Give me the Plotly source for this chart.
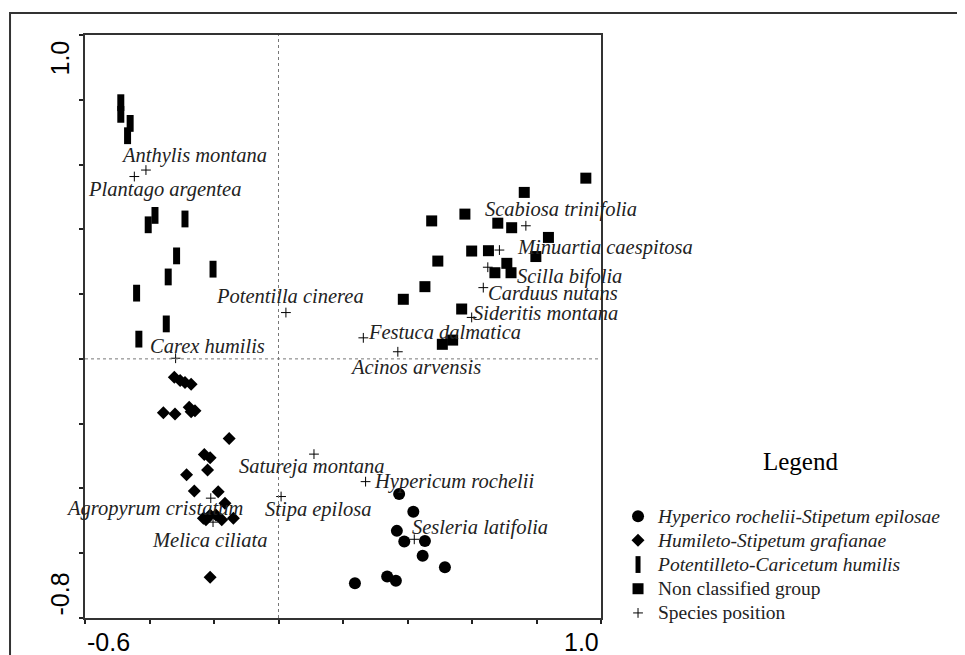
import plotly.graph_objects as go

# ---------------- data (ordination scores) ----------------
hyp_x = [0.374, 0.418, 0.367, 0.390, 0.454, 0.447, 0.516, 0.237, 0.337, 0.364]
hyp_y = [-0.417, -0.472, -0.531, -0.564, -0.562, -0.608, -0.643, -0.693, -0.672, -0.685]

hum_x = [-0.323, -0.305, -0.290, -0.271, -0.357, -0.321, -0.277, -0.271, -0.259, -0.153,
         -0.230, -0.212, -0.220, -0.285, -0.261, -0.187, -0.166, -0.233, -0.212, -0.194,
         -0.176, -0.140, -0.225, -0.212]
hum_y = [-0.057, -0.067, -0.073, -0.078, -0.166, -0.170, -0.149, -0.163, -0.160, -0.246,
         -0.295, -0.305, -0.343, -0.358, -0.408, -0.410, -0.446, -0.492, -0.482, -0.482,
         -0.497, -0.492, -0.497, -0.674]

pot_x = [-0.489, -0.489, -0.460, -0.468, -0.383, -0.404, -0.290, -0.316, -0.342, -0.203,
         -0.440, -0.348, -0.433]
pot_y = [0.791, 0.755, 0.727, 0.689, 0.443, 0.414, 0.432, 0.318, 0.253, 0.277,
         0.203, 0.108, 0.061]

non_x = [0.953, 0.762, 0.578, 0.475, 0.680, 0.723, 0.837, 0.599, 0.651, 0.798,
         0.708, 0.671, 0.721, 0.494, 0.454, 0.387, 0.568, 0.508, 0.540]
non_y = [0.558, 0.514, 0.447, 0.426, 0.419, 0.405, 0.375, 0.333, 0.334, 0.316,
         0.295, 0.266, 0.266, 0.302, 0.223, 0.184, 0.154, 0.045, 0.058]

species = ["Anthylis montana", "Plantago argentea", "Potentilla cinerea", "Carex humilis",
           "Festuca dalmatica", "Acinos arvensis", "Sideritis montana", "Carduus nutans",
           "Scilla bifolia", "Minuartia caespitosa", "Scabiosa trinifolia", "Satureja montana",
           "Hypericum rochelii", "Stipa epilosa", "Sesleria latifolia", "Agropyrum cristatum",
           "Melica ciliata"]
sp_x = [-0.411, -0.447, 0.023, -0.319, 0.263, 0.370, 0.599, 0.635, 0.649, 0.685, 0.767,
        0.110, 0.270, 0.008, 0.421, -0.210, -0.203]
sp_y = [0.583, 0.563, 0.143, 0.002, 0.065, 0.022, 0.128, 0.220, 0.283, 0.336, 0.411,
        -0.294, -0.379, -0.425, -0.557, -0.430, -0.504]

group_names = ["Hyperico rochelii-Stipetum epilosae",
               "Humileto-Stipetum grafianae",
               "Potentilleto-Caricetum humilis",
               "Non classified group",
               "Species position"]
group_italic = [True, True, True, False, False]

x_range = [-0.6, 1.0]
y_range = [-0.8, 1.0]

# ---------------- label placement (pixel offsets from species point) ----------------
label_dx = [48, 30, 4, 32, 81, 18, 74, 70, 82, 106, 35, -2, 89, 37, 66, -56, -4]
label_dy = [15, -13, 17, 12, 6, -15, 4, -5, -9, 3, 16, -12, 0, -13, 12, -10, -18]

SERIF = "Liberation Serif, Times New Roman, serif"
SANS = "Liberation Sans, Arial, sans-serif"


def legend_label(name, italic):
    t = '<span style="font-size:19.5px">%s</span>' % name
    return "<i>%s</i>" % t if italic else t


fig = go.Figure()

fig.add_trace(go.Scatter(x=hyp_x, y=hyp_y, mode="markers",
                         name=legend_label(group_names[0], group_italic[0]),
                         marker=dict(symbol="circle", size=12, color="black")))
fig.add_trace(go.Scatter(x=hum_x, y=hum_y, mode="markers",
                         name=legend_label(group_names[1], group_italic[1]),
                         marker=dict(symbol="diamond", size=10, color="black")))
fig.add_trace(go.Scatter(x=pot_x, y=pot_y, mode="markers",
                         name=legend_label(group_names[2], group_italic[2]),
                         marker=dict(symbol="line-ns", size=12,
                                     line=dict(color="black", width=7))))
fig.add_trace(go.Scatter(x=non_x, y=non_y, mode="markers",
                         name=legend_label(group_names[3], group_italic[3]),
                         marker=dict(symbol="square", size=11, color="black")))
fig.add_trace(go.Scatter(x=sp_x, y=sp_y, mode="markers",
                         name=legend_label(group_names[4], group_italic[4]),
                         marker=dict(symbol="cross-thin", size=7,
                                     line=dict(color="black", width=1))))

# species labels
for name, sx, sy, dx, dy in zip(species, sp_x, sp_y, label_dx, label_dy):
    fig.add_annotation(x=sx, y=sy, text="<i>%s</i>" % name, showarrow=False,
                       xanchor="center", yanchor="middle", xshift=dx, yshift=dy,
                       font=dict(family=SERIF, size=20.5, color="#222"))

# dotted zero lines
fig.add_shape(type="line", xref="x", yref="paper", x0=0, x1=0, y0=0, y1=1,
              line=dict(color="#777", width=1, dash="dot"))
fig.add_shape(type="line", xref="paper", yref="y", x0=0, x1=1, y0=0, y1=0,
              line=dict(color="#777", width=1, dash="dot"))

# outer frame
fig.add_shape(type="rect", xref="paper", yref="paper", x0=-0.1453, x1=1.72,
              y0=-0.08, y1=1.0377, line=dict(color="#333", width=2), layer="below")

# axis end labels
fig.add_annotation(xref="paper", yref="paper", x=0, y=0, text="-0.6", showarrow=False,
                   xanchor="left", yanchor="top", yshift=-8,
                   font=dict(family=SANS, size=25, color="black"))
fig.add_annotation(xref="paper", yref="paper", x=1, y=0, text="1.0", showarrow=False,
                   xanchor="right", yanchor="top", yshift=-8,
                   font=dict(family=SANS, size=25, color="black"))
fig.add_annotation(xref="paper", yref="paper", x=0, y=1, text="1.0", showarrow=False,
                   xanchor="right", yanchor="top", xshift=-10, yshift=-4, textangle=-90,
                   font=dict(family=SANS, size=25, color="black"))
fig.add_annotation(xref="paper", yref="paper", x=0, y=0, text="-0.8", showarrow=False,
                   xanchor="right", yanchor="bottom", xshift=-10, textangle=-90,
                   font=dict(family=SANS, size=25, color="black"))

# legend title
fig.add_annotation(xref="paper", yref="paper", x=1.386, y=0.2676, text="Legend",
                   showarrow=False, xanchor="center", yanchor="middle",
                   font=dict(family=SERIF, size=25, color="black"))

fig.update_xaxes(range=x_range, showgrid=False, zeroline=False, showticklabels=False,
                 ticks="outside", ticklen=4, tickwidth=1.5, tickcolor="#222",
                 tick0=-0.6, dtick=0.2, showline=True, linecolor="#333", linewidth=2,
                 mirror=True)
fig.update_yaxes(range=y_range, showgrid=False, zeroline=False, showticklabels=False,
                 ticks="outside", ticklen=4, tickwidth=1.5, tickcolor="#222",
                 tick0=-0.8, dtick=0.2, showline=True, linecolor="#333", linewidth=2,
                 mirror=True)

fig.update_layout(
    width=957, height=647,
    margin=dict(l=77, r=364, t=27, b=37),
    paper_bgcolor="white", plot_bgcolor="white",
    showlegend=True,
    legend=dict(x=1.033, y=0.204, xanchor="left", yanchor="top",
                font=dict(family=SERIF, size=16.3, color="#222"),
                bgcolor="rgba(0,0,0,0)", borderwidth=0, tracegroupgap=0),
)

fig.write_html("out.html")
